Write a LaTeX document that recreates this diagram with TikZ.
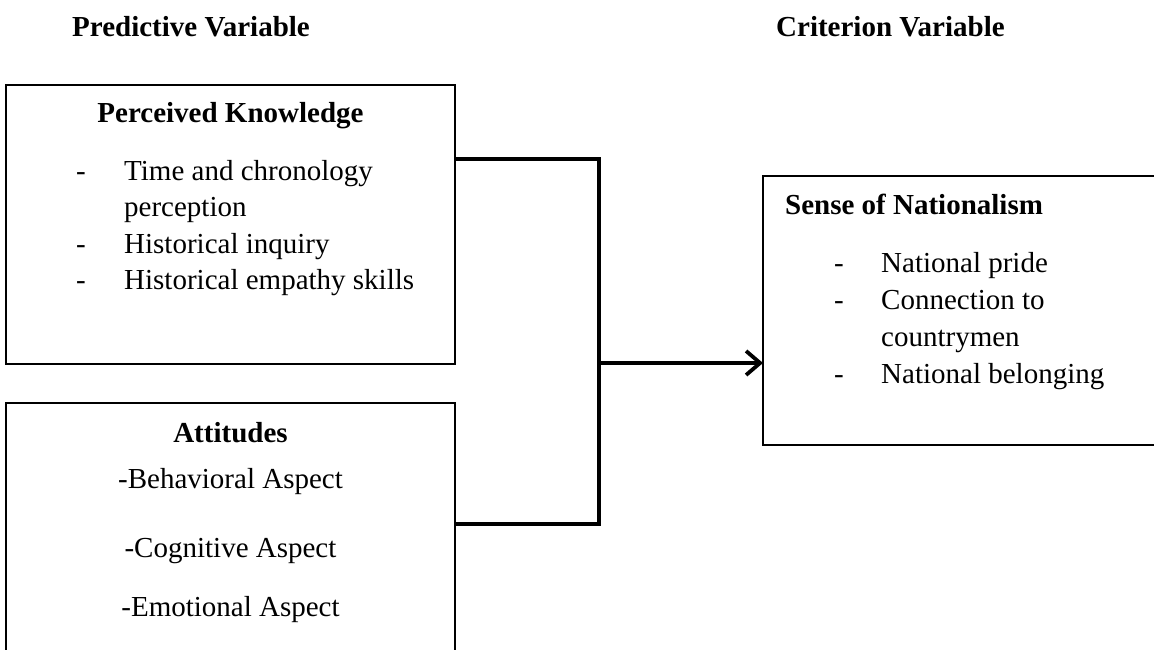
\documentclass[tikz,border=0pt]{standalone}
\usepackage{fontspec}
\setmainfont{Liberation Serif}
\usetikzlibrary{arrows.meta}
\begin{document}
\begin{tikzpicture}[x=1pt,y=-1pt,
  box/.style={draw, line width=2.4pt, inner sep=0pt, outer sep=0pt},
  txt/.style={font=\fontsize{29}{35}\selectfont, inner sep=0pt, anchor=base west},
  hd/.style={txt, font=\fontsize{29}{35}\selectfont\bfseries},
  conn/.style={line width=3.8pt}]
\useasboundingbox (0,0) rectangle (1154,650);
\clip (0,0) rectangle (1154,650);
% headings
\node[hd] (predh) at (72,37) {Predictive Variable};
\node[hd] (crith) at (776,37) {Criterion Variable};
% boxes
\node[box, minimum width=449pt, minimum height=279pt] (pk) at (230.5,224.5) {};
\node[box, minimum width=449pt, minimum height=297pt] (att) at (230.5,551.5) {};
\node[box, minimum width=437pt, minimum height=269pt] (sn) at (981.5,310.5) {};
% Perceived Knowledge
\node[hd, anchor=base] (pkt) at (230.5,123) {Perceived Knowledge};
\node[txt] (pkd1) at (76,180.5) {-};
\node[txt] (pki1) at (124,180.5) {Time and chronology};
\node[txt] (pki1b) at (124,216.8) {perception};
\node[txt] (pkd2) at (76,253.2) {-};
\node[txt] (pki2) at (124,253.2) {Historical inquiry};
\node[txt] (pkd3) at (76,289.8) {-};
\node[txt] (pki3) at (124,289.8) {Historical empathy skills};
% Attitudes
\node[hd, anchor=base] (att0) at (230.5,442) {Attitudes};
\node[txt, anchor=base] (att1) at (230.5,488) {-Behavioral Aspect};
\node[txt, anchor=base] (att2) at (230.5,557) {-Cognitive Aspect};
\node[txt, anchor=base] (att3) at (230.5,616) {-Emotional Aspect};
% Sense of Nationalism
\node[hd] (snt) at (785,214) {Sense of Nationalism};
\node[txt] (snd1) at (834,272) {-};
\node[txt] (sni1) at (881,272) {National pride};
\node[txt] (snd2) at (834,309) {-};
\node[txt] (sni2) at (881,309) {Connection to};
\node[txt] (sni2b) at (881,346) {countrymen};
\node[txt] (snd3) at (834,383) {-};
\node[txt] (sni3) at (881,383) {National belonging};
% connectors
\coordinate (j1) at (599,159);
\coordinate (j2) at (599,524);
\coordinate (jm) at (599,363);
\draw[conn] (pk.east |- j1) -- (j1) -- (j2) -- (att.east |- j2);
\draw[conn, -{Straight Barb[length=14pt,width=24pt]}] (jm) -- (sn.west |- jm);
\end{tikzpicture}
\end{document}
